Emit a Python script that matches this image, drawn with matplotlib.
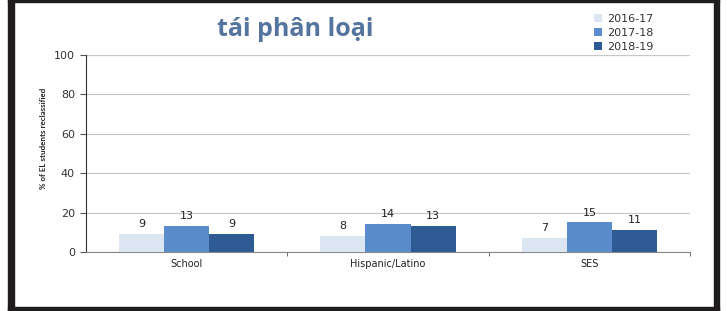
import matplotlib
matplotlib.use("Agg")
import matplotlib.pyplot as plt
import numpy as np
from matplotlib.patches import Rectangle

categories = ["School", "Hispanic/Latino", "SES"]
series_names = ["2016-17", "2017-18", "2018-19"]
v2016 = [9, 8, 7]
v2017 = [13, 14, 15]
v2018 = [9, 13, 11]
yticks = [0, 20, 40, 60, 80, 100]

colors = ["#dce6f2", "#5a8ccc", "#2e5b93"]

fig = plt.figure(figsize=(7.27, 3.11), dpi=100)
fig.patch.set_facecolor("white")

W, H = 727, 311
def frect(x0, y0, x1, y1):
    fig.patches.append(Rectangle((x0 / W, 1 - y1 / H), (x1 - x0) / W, (y1 - y0) / H,
                                 transform=fig.transFigure, color="#1e1c1c", zorder=0))
frect(8, 0, 14, 311)
frect(714, 0, 719, 311)
frect(8, 307, 719, 311)
frect(8, 0, 719, 1.5)

ax = fig.add_axes([86/727, 1 - 252/311, (690 - 86)/727, (252 - 55)/311])
x = np.arange(len(categories))
w = 0.224
for i, (vals, name) in enumerate(zip([v2016, v2017, v2018], series_names)):
    pos = x + (i - 1) * w
    ax.bar(pos, vals, width=w, color=colors[i], label=name, zorder=3)
    for p, v in zip(pos, vals):
        ax.text(p, v + 2.5, str(v), ha="center", va="bottom", fontsize=8, color="#222222")

ax.set_xlim(-0.5, len(categories) - 0.5)
ax.set_ylim(0, 100)
ax.set_yticks(yticks)
ax.set_yticklabels([str(t) for t in yticks], fontsize=8, color="#333333")
ax.yaxis.grid(True, color="#c8c8c8", linewidth=0.9, zorder=0)
ax.set_axisbelow(True)
ax.set_xticks(x)
ax.set_xticklabels(categories, fontsize=7, color="#222222")
ax.tick_params(axis="x", length=0, pad=5)
ax.set_xticks([0.5, 1.5, 2.5], minor=True)
ax.tick_params(axis="x", which="minor", length=3, color="#555555", direction="out")
ax.tick_params(axis="y", length=4, color="#555555", direction="out", pad=4)
for s in ["top", "right"]:
    ax.spines[s].set_visible(False)
ax.spines["left"].set_color("#333333")
ax.spines["bottom"].set_color("#888888")

fig.text(43/727, 1 - 138/311, "% of EL students reclassified", rotation=90, ha="center", va="center",
         fontsize=5.8, fontweight="bold", color="#222222", family="Lato")

fig.text(295/727, 1 - 30/311, "tái phân loại", ha="center", va="center", fontsize=18,
         fontweight="bold", color="#55759e", family="Open Sans")

leg = fig.legend(loc="upper left", bbox_to_anchor=(584/727, 1 - 4/311), frameon=False, fontsize=8,
                 handlelength=0.7, handleheight=0.7, handletextpad=0.5, labelspacing=0.35)
for t in leg.get_texts():
    t.set_color("#333333")

fig.savefig("out.png", dpi=100)
